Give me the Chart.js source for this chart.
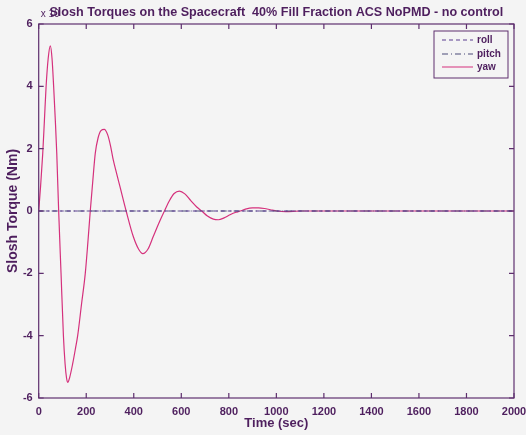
<!DOCTYPE html>
<html>
<head>
<meta charset="utf-8">
<script src="https://cdn.jsdelivr.net/npm/chart.js@4"></script>
<style>
  html, body { margin: 0; padding: 0; background: #f4f4f4; }
  #wrap { width: 526px; height: 435px; position: relative; }
</style>
</head>
<body>
<div id="wrap"><canvas id="slosh" width="526" height="435"></canvas></div>
<script>
// values (torque scaled by 1e-4)
const yawTime = [0, 8, 17, 24, 31, 40, 49, 56, 63, 70, 76, 84, 94, 104, 111, 117, 122, 130, 143, 155, 164, 180, 196, 207, 217, 228, 238, 250, 262, 276, 290, 302, 314, 328, 342, 368, 398, 420, 438, 460, 482, 505, 529, 550, 570, 592, 615, 640, 665, 686, 710, 735, 756, 780, 805, 830, 848, 870, 900, 925, 950, 975, 1002, 1040, 1100, 1200, 1400, 1600, 1800, 2000];
const yawTorque = [0, 0.8, 1.85, 2.9, 3.98, 4.9, 5.3, 4.9, 3.98, 2.9, 1.85, 0, -2.0, -4.0, -4.9, -5.35, -5.5, -5.35, -4.9, -4.4, -4.0, -3.0, -2.0, -1.0, 0, 1.0, 1.85, 2.35, 2.58, 2.62, 2.45, 2.1, 1.63, 1.2, 0.78, 0, -0.82, -1.22, -1.37, -1.22, -0.82, -0.4, 0, 0.33, 0.56, 0.64, 0.55, 0.33, 0.13, 0, -0.16, -0.26, -0.28, -0.22, -0.12, -0.04, 0, 0.06, 0.1, 0.1, 0.08, 0.04, 0, -0.02, 0, 0, 0, 0, 0, 0];
const rollTime = [0, 2000];
const rollTorque = [0, 0];
const pitchTime = [0, 2000];
const pitchTorque = [0, 0];
const xTicks = [0, 200, 400, 600, 800, 1000, 1200, 1400, 1600, 1800, 2000];
const yTicks = [-6, -4, -2, 0, 2, 4, 6];
const legendNames = ['roll', 'pitch', 'yaw'];
const titleText = 'Slosh Torques on the Spacecraft  40% Fill Fraction ACS NoPMD - no control';

const ink = '#4e1f5e';
const frame = '#5e2f6e';
const font = 'Liberation Sans, Arial, sans-serif';

const pts = (t, v) => t.map((x, i) => ({ x: x, y: v[i] }));

// MATLAB style box with inward ticks, the title, the "x 10" note and the legend
const decor = {
  id: 'decor',
  afterDatasetsDraw(chart) {
    const { ctx, chartArea: a, scales: { x, y } } = chart;
    ctx.save();
    ctx.strokeStyle = frame;
    ctx.lineWidth = 1.2;
    ctx.strokeRect(a.left, a.top, a.right - a.left, a.bottom - a.top);
    ctx.beginPath();
    xTicks.forEach(t => {
      const px = x.getPixelForValue(t);
      ctx.moveTo(px, a.bottom); ctx.lineTo(px, a.bottom - 5);
      ctx.moveTo(px, a.top); ctx.lineTo(px, a.top + 5);
    });
    yTicks.forEach(t => {
      const py = y.getPixelForValue(t);
      ctx.moveTo(a.left, py); ctx.lineTo(a.left + 5, py);
      ctx.moveTo(a.right, py); ctx.lineTo(a.right - 5, py);
    });
    ctx.stroke();

    ctx.fillStyle = ink;
    ctx.font = '10px ' + font;
    ctx.textBaseline = 'alphabetic';
    ctx.fillText('x 10', a.left + 2, a.top - 7);

    ctx.font = 'bold 12.6px ' + font;
    ctx.textAlign = 'center';
    ctx.textBaseline = 'middle';
    ctx.fillText(titleText, (a.left + a.right) / 2, 13);
    ctx.textAlign = 'left';

    // legend
    const bx = 434, by = 31, bw = 74, bh = 47;
    ctx.fillStyle = '#f4f4f4';
    ctx.fillRect(bx, by, bw, bh);
    ctx.strokeStyle = frame;
    ctx.lineWidth = 1;
    ctx.strokeRect(bx, by, bw, bh);
    const rows = [40, 54, 67];
    ctx.font = 'bold 10px ' + font;
    chart.data.datasets.forEach((ds, i) => {
      ctx.beginPath();
      ctx.strokeStyle = ds.borderColor;
      ctx.lineWidth = 1;
      ctx.setLineDash(ds.borderDash || []);
      ctx.moveTo(442, rows[i]); ctx.lineTo(473, rows[i]);
      ctx.stroke();
      ctx.setLineDash([]);
      ctx.fillStyle = ink;
      ctx.fillText(legendNames[i], 477, rows[i]);
    });
    ctx.restore();
  }
};

new Chart(document.getElementById('slosh'), {
  type: 'line',
  data: {
    datasets: [
      { label: legendNames[0], data: pts(rollTime, rollTorque), borderColor: '#5b3d8f', borderDash: [4, 3], borderWidth: 1.2, pointRadius: 0 },
      { label: legendNames[1], data: pts(pitchTime, pitchTorque), borderColor: '#4b4a78', borderDash: [6, 3, 1, 3], borderWidth: 1.2, pointRadius: 0 },
      { label: legendNames[2], data: pts(yawTime, yawTorque), borderColor: '#d5317c', borderWidth: 1.2, pointRadius: 0, cubicInterpolationMode: 'monotone' }
    ]
  },
  options: {
    responsive: false,
    animation: false,
    layout: { padding: { left: 0, right: 0, top: 24, bottom: 0 } },
    plugins: {
      legend: { display: false },
      tooltip: { enabled: false },
      title: { display: false }
    },
    scales: {
      x: {
        type: 'linear', min: 0, max: 2000,
        afterFit: s => { s.height = 37; s.paddingRight = 12; },
        afterBuildTicks: s => { s.ticks = xTicks.map(v => ({ value: v })); },
        grid: { display: false, drawTicks: false },
        border: { display: false },
        ticks: { color: ink, padding: 7, maxRotation: 0, callback: v => String(v), font: { family: font, size: 11, weight: 'bold' } },
        title: { display: true, text: 'Time (sec)', color: ink, padding: { top: 0, bottom: 4 }, font: { family: font, size: 13, weight: 'bold' } }
      },
      y: {
        min: -6, max: 6,
        afterFit: s => { s.width = 38.7; },
        afterBuildTicks: s => { s.ticks = yTicks.map(v => ({ value: v })); },
        grid: { display: false, drawTicks: false },
        border: { display: false },
        ticks: { color: ink, padding: 6, callback: v => String(v), font: { family: font, size: 11, weight: 'bold' } },
        title: { display: true, text: 'Slosh Torque (Nm)', color: ink, padding: { top: 5, bottom: 0 }, font: { family: font, size: 14, weight: 'bold' } }
      }
    }
  },
  plugins: [decor]
});
</script>
</body>
</html>
